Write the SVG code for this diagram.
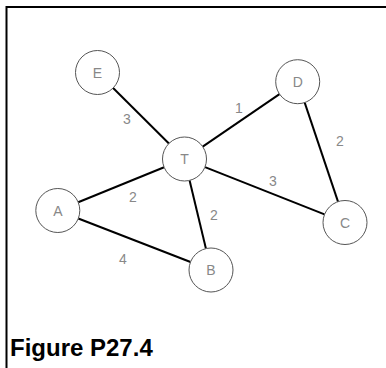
<svg xmlns="http://www.w3.org/2000/svg" width="386" height="368" viewBox="0 0 386 368">
<style>
.frame{fill:none;stroke:#000;stroke-width:2}
.edge{stroke:#000;stroke-width:2;stroke-linecap:butt}
.node circle{fill:#fff;stroke:#555;stroke-width:1}
.node text{font-family:"Liberation Sans",Arial,sans-serif;font-size:14px;fill:#888;text-anchor:middle}
.lbl{font-family:"Liberation Sans",Arial,sans-serif;font-size:14px;fill:#888;text-anchor:middle}
.title{font-family:"Liberation Sans",Arial,sans-serif;font-size:24px;font-weight:bold;fill:#000}
</style>
<rect width="386" height="368" fill="#fff"/>
<polyline class="frame" points="6.5,368 6.5,7 386,7"/>
<g id="connectors">
<line class="edge" x1="113.1" y1="88" x2="168.9" y2="143.5"/>
<line class="edge" x1="202.7" y1="146.6" x2="279.5" y2="94.1"/>
<line class="edge" x1="304.7" y1="102.6" x2="338" y2="201.6"/>
<line class="edge" x1="205" y1="167.1" x2="324.5" y2="214.4"/>
<line class="edge" x1="164.1" y1="167.3" x2="78.2" y2="202.2"/>
<line class="edge" x1="189.6" y1="180.4" x2="205.9" y2="248.6"/>
<line class="edge" x1="78.3" y1="218.5" x2="190.5" y2="262"/>
<text class="lbl" x="127" y="124">3</text>
<text class="lbl" x="239" y="113">1</text>
<text class="lbl" x="340" y="146">2</text>
<text class="lbl" x="273" y="186">3</text>
<text class="lbl" x="133" y="202">2</text>
<text class="lbl" x="214" y="220">2</text>
<text class="lbl" x="123" y="264">4</text>
</g>
<g id="node-E" class="node"><circle cx="97.5" cy="72.5" r="22"/><text x="97.5" y="77.5">E</text></g>
<g id="node-D" class="node"><circle cx="297.7" cy="81.7" r="22"/><text x="297.7" y="86.7">D</text></g>
<g id="node-T" class="node"><circle cx="184.5" cy="159" r="22"/><text x="184.5" y="164">T</text></g>
<g id="node-A" class="node"><circle cx="57.8" cy="210.5" r="22"/><text x="57.8" y="215.5">A</text></g>
<g id="node-C" class="node"><circle cx="345" cy="222.5" r="22"/><text x="345" y="227.5">C</text></g>
<g id="node-B" class="node"><circle cx="211" cy="270" r="22"/><text x="211" y="275">B</text></g>
<text class="title" x="10" y="356">Figure P27.4</text>
</svg>
